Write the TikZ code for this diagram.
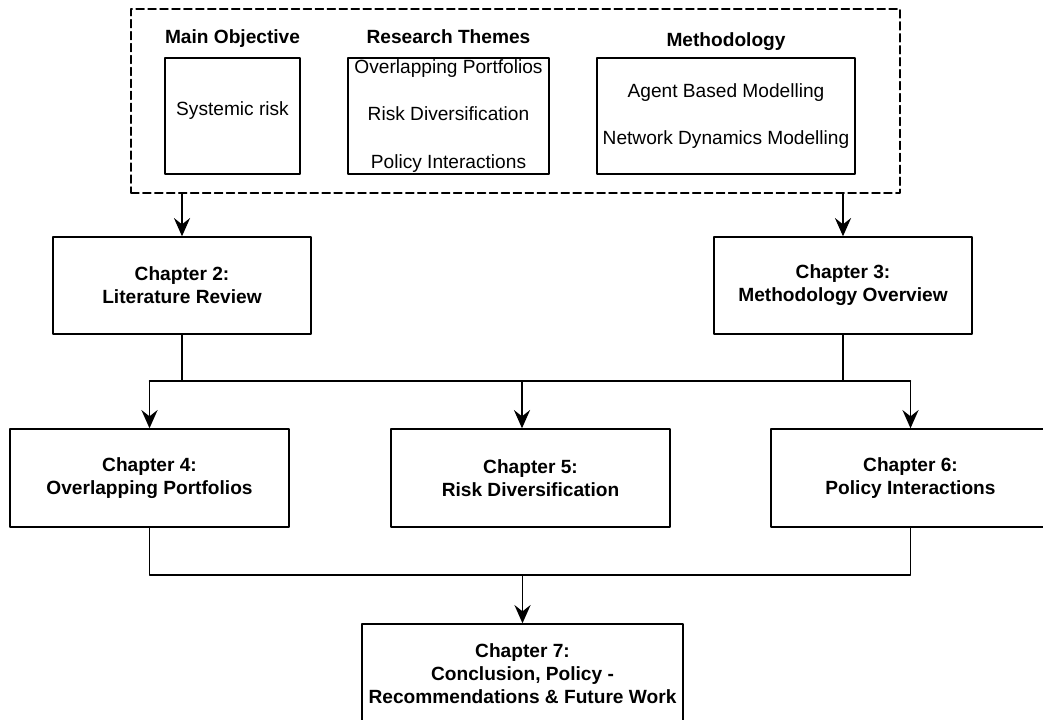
\documentclass[tikz,border=0pt]{standalone}
\usepackage{fontspec}
\setmainfont{Liberation Sans}
\usepackage{tikz}
\usetikzlibrary{arrows.meta}
\tikzset{
  chapbox/.style={draw,line width=1pt,minimum width=6.45cm,minimum height=2.425cm,align=center,font=\fontsize{13.6}{16.4}\selectfont\bfseries},
  widebox/.style={chapbox,minimum width=6.975cm,minimum height=2.45cm},
  themebox/.style={draw,line width=1pt,minimum height=2.9cm,inner sep=1pt,align=center,font=\fontsize{13.6}{33.8}\selectfont},
  headlabel/.style={anchor=base,font=\fontsize{13.6}{16.4}\selectfont\bfseries}
}

\begin{document}
\begin{tikzpicture}[line cap=round,line join=round,>={Stealth[length=13pt,width=11.5pt,inset=4.5pt]},x=0.025cm,y=-0.025cm,line width=1pt]
            \useasboundingbox (0,0) rectangle (1043,720);
            \node[draw,dash pattern=on 5.7pt off 2.8pt,minimum width=19.225cm,minimum height=4.6cm] (frame) at (515.5,101) {};
            \node[headlabel] (objhead) at (232.5,44) {Main Objective};
            \node[headlabel] (themehead) at (448.5,44) {Research Themes};
            \node[headlabel] (methhead) at (726,47) {Methodology};
            \node[themebox,minimum width=3.375cm,text depth=11pt] (objbox) at (232.5,116) {Systemic risk};
            \node[themebox,minimum width=5.025cm] (themebox) at (448.5,116) {Overlapping Portfolios\\Risk Diversification\\Policy Interactions};
            \node[themebox,minimum width=6.45cm] (methbox) at (726,116) {Agent Based Modelling\\Network Dynamics Modelling};

            \node[chapbox] (ch2) at (182,285.5) {Chapter 2:\\Literature Review};
            \node[chapbox] (ch3) at (843,285.5) {Chapter 3:\\Methodology Overview};
            \node[widebox] (ch4) at (149.5,478) {Chapter 4:\\Overlapping Portfolios};
            \node[widebox] (ch5) at (530.5,478) {Chapter 5:\\Risk Diversification};
            \node[widebox] (ch6) at (910.5,478) {Chapter 6:\\Policy Interactions};
            \node[chapbox,minimum width=8.025cm,minimum height=2.5cm] (ch7) at (522.5,674) {Chapter 7:\\Conclusion, Policy -\\Recommendations \& Future Work};

            \coordinate (upper) at (0,381);
            \coordinate (lower) at (0,575);
            \coordinate (ch5top) at (522,0);
            \draw[->] (frame.south -| ch2.north) -- (ch2.north);
            \draw[->] (frame.south -| ch3.north) -- (ch3.north);
            \draw (ch2.south) -- (ch2.south |- upper);
            \draw (ch3.south) -- (ch3.south |- upper);
            \draw (ch4.north |- upper) -- (ch6.north |- upper);
            \draw[->] (ch4.north |- upper) -- (ch4.north);
            \draw[->] (ch5top |- upper) -- (ch5top |- ch5.north);
            \draw[->] (ch6.north |- upper) -- (ch6.north);
            \draw (ch4.south) -- (ch4.south |- lower) -- (ch6.south |- lower) -- (ch6.south);
            \draw[->] (ch7.north |- lower) -- (ch7.north);
\end{tikzpicture}
\end{document}
